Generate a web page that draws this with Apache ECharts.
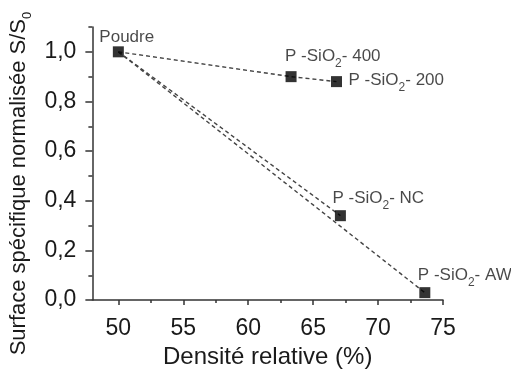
<!DOCTYPE html>
<html>
<head>
<meta charset="utf-8">
<script src="https://cdn.jsdelivr.net/npm/echarts@6/dist/echarts.min.js"></script>
<style>
html,body{margin:0;padding:0;background:#fff;}
#c{width:511px;height:374px;}
</style>
</head>
<body>
<div id="c"></div>
<script>
// ---- data ----
const sampleNames = ['Poudre', 'P -SiO2- 400', 'P -SiO2- 200', 'P -SiO2- NC', 'P -SiO2- AW'];
const density = [50, 63.3, 66.8, 67.1, 73.6];
const surface = [1.0, 0.90, 0.88, 0.34, 0.03];
const linePaths = [[0, 1, 2], [0, 3], [0, 4]];
const xTicks = [50, 55, 60, 65, 70, 75];
const xMinorTicks = [52.5, 57.5, 62.5, 67.5, 72.5];
const yTicks = [0, 0.2, 0.4, 0.6, 0.8, 1.0];
const yMinorTicks = [0.1, 0.3, 0.5, 0.7, 0.9, 1.1];

// ---- styling ----
const FONT = "'Liberation Sans', Arial, sans-serif";
const axisColor = '#333';
const textColor = '#1a1a1a';
const labelOffsets = [[-19, -15], [-6, -20], [12, -1], [-8, -17], [-7, -17]];

function richName(n) {
  const i = n.indexOf('SiO2');
  if (i < 0) return '{t|' + n + '}';
  return '{t|' + n.slice(0, i + 3) + '}{s|2}{t|' + n.slice(i + 4) + '}';
}
const fmt = v => Number(v).toFixed(1).replace('.', ',');

const chart = echarts.init(document.getElementById('c'), null, {renderer: 'canvas'});

const series = [];
linePaths.forEach(p => {
  series.push({
    type: 'line',
    xAxisIndex: 0, yAxisIndex: 0,
    data: p.map(i => [density[i], surface[i]]),
    symbol: 'none',
    silent: true,
    lineStyle: {color: '#444', width: 1.4, type: [4, 3]},
    z: 2
  });
});
series.push({
  type: 'scatter',
  xAxisIndex: 0, yAxisIndex: 0,
  symbol: 'rect',
  symbolSize: 11,
  itemStyle: {color: '#000'},
  z: 3,
  data: density.map((d, i) => ({
    value: [d, surface[i]],
    name: sampleNames[i],
    label: {
      show: true,
      position: 'inside',
      align: 'left',
      verticalAlign: 'middle',
      offset: labelOffsets[i],
      formatter: richName(sampleNames[i]),
      rich: {
        t: {fontFamily: FONT, fontSize: 17, color: textColor},
        s: {fontFamily: FONT, fontSize: 12, color: textColor, padding: [14, 0, 0, 0]}
      }
    }
  }))
});

const option = {
  backgroundColor: '#fff',
  animation: false,
  grid: {left: 82, right: 68, top: 27, bottom: 61, containLabel: false},
  xAxis: [{
    type: 'value', min: 48, max: 75,
    axisLine: {show: true, lineStyle: {color: axisColor, width: 1.5}},
    axisTick: {show: true, inside: false, length: 5, customValues: xTicks, lineStyle: {color: axisColor, width: 1.5}},
    axisLabel: {show: true, customValues: xTicks, margin: 17, fontFamily: FONT, fontSize: 23, color: textColor},
    splitLine: {show: false},
    name: 'Densité relative (%)',
    nameLocation: 'middle',
    nameGap: 40,
    nameTextStyle: {fontFamily: FONT, fontSize: 24, color: textColor}
  }, {
    type: 'value', min: 48, max: 75, position: 'bottom',
    axisLine: {show: false},
    axisTick: {show: true, inside: false, length: 3, customValues: xMinorTicks, lineStyle: {color: axisColor, width: 1.5}},
    axisLabel: {show: false},
    splitLine: {show: false}
  }],
  yAxis: [{
    type: 'value', min: 0, max: 1.1,
    axisLine: {show: true, lineStyle: {color: axisColor, width: 1.5}},
    axisTick: {show: true, inside: false, length: 7, customValues: yTicks, lineStyle: {color: axisColor, width: 1.5}},
    axisLabel: {show: true, customValues: yTicks, margin: 16, fontFamily: FONT, fontSize: 23, color: textColor, formatter: fmt},
    splitLine: {show: false},
    name: '{n|Surface spécifique normalisée S/S}{s|0}',
    nameLocation: 'middle',
    nameGap: 52,
    nameTextStyle: {
      fontFamily: FONT, fontSize: 22, color: textColor,
      padding: [0, 40, 0, 0],
      rich: {
        n: {fontFamily: FONT, fontSize: 22, color: textColor},
        s: {fontFamily: FONT, fontSize: 13, color: textColor, padding: [16, 0, 0, 0]}
      }
    }
  }, {
    type: 'value', min: 0, max: 1.1, position: 'left',
    axisLine: {show: false},
    axisTick: {show: true, inside: false, length: 4, customValues: yMinorTicks, lineStyle: {color: axisColor, width: 1.5}},
    axisLabel: {show: false},
    splitLine: {show: false}
  }],
  series: series
};
chart.setOption(option);
</script>
</body>
</html>
